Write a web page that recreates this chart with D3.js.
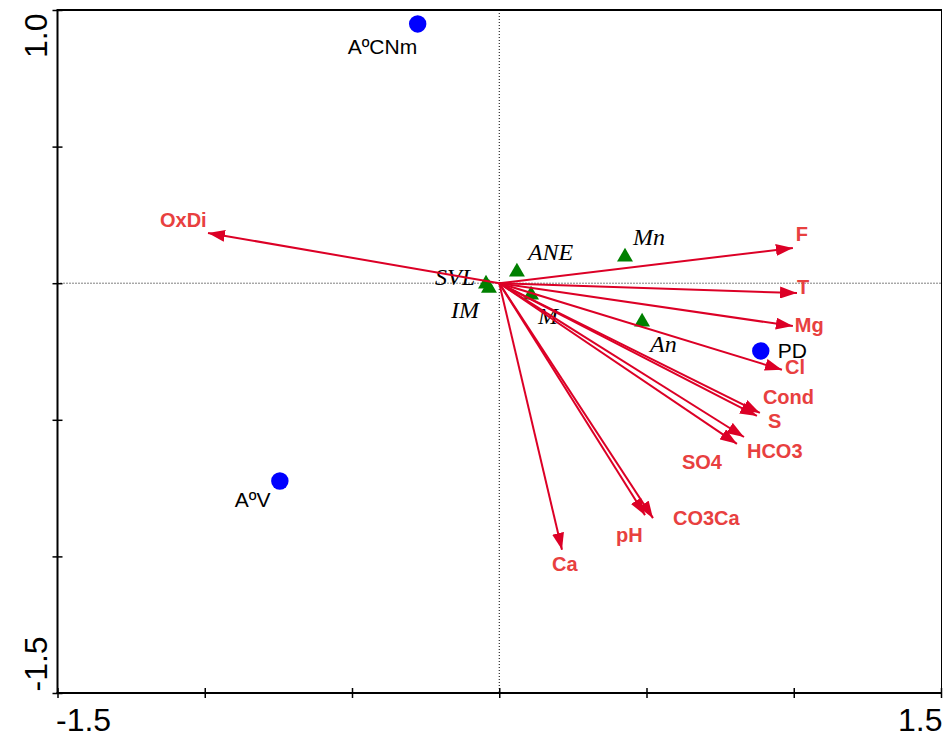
<!DOCTYPE html>
<html>
<head>
<meta charset="utf-8">
<script src="https://cdn.jsdelivr.net/npm/d3@7"></script>
<style>
  html, body { margin: 0; padding: 0; background: #fff; }
  svg { display: block; }
</style>
</head>
<body>
<svg id="chart" width="943" height="736"></svg>
<script>
// ---------------- DATA ----------------
const envVars = ["OxDi", "F", "T", "Mg", "Cl", "Cond", "S", "HCO3", "SO4", "CO3Ca", "pH", "Ca"];
const envX    = [-0.989, 0.997, 1.011, 0.997, 0.960, 0.885, 0.875, 0.831, 0.807, 0.522, 0.495, 0.213];
const envY    = [ 0.184, 0.129, -0.036, -0.157, -0.317, -0.475, -0.486, -0.563, -0.588, -0.860, -0.849, -0.976];

const species  = ["ANE", "SVL", "IM", "M", "Mn", "An"];
const speciesX = [0.060, -0.045, -0.035, 0.108, 0.427, 0.485];
const speciesY = [0.041, -0.003, -0.018, -0.043, 0.096, -0.142];

const sites  = ["AºCNm", "PD", "AºV"];
const siteX  = [-0.277, 0.888, -0.745];
const siteY  = [0.949, -0.248, -0.724];

const xTicks = [-1.5, -1.0, -0.5, 0, 0.5, 1.0, 1.5];
const yTicks = [-1.5, -1.0, -0.5, 0, 0.5, 1.0];
const xTickLabels = ["-1.5", "", "", "", "", "", "1.5"];
const yTickLabels = ["-1.5", "", "", "", "", "1.0"];

// ---------------- LAYOUT (label nudges in px) ----------------
const envLabelNudge = [[-48,-6],[3,-7],[0,1],[2,6],[3,4],[3,-9],[11,12],[3,21],[-55,25],[20,7],[-29,27],[-10,21]];
const speciesLabelNudge = [[11,-12],[-51,1],[-38,30],[7,29],[8,-12],[8,30]];
const siteLabelNudge = [[-70,30],[17,7],[-45,26]];

// ---------------- CHART ----------------
const svg = d3.select("#chart");
const pLeft = 57.5, pRight = 941, pTop = 10, pBottom = 693;
const x = d3.scaleLinear().domain([-1.5, 1.5]).range([pLeft, pRight]);
const y = d3.scaleLinear().domain([-1.5, 1.0]).range([pBottom, pTop]);

const arrowColor = "#dc0026";
const envLabelColor = "#e8403f";

// frame lines: top and right
svg.append("line").attr("x1", pLeft).attr("x2", pRight + 1).attr("y1", pTop).attr("y2", pTop)
  .attr("stroke", "#000").attr("stroke-width", 2);
svg.append("line").attr("x1", pRight + 0.5).attr("x2", pRight + 0.5).attr("y1", pTop).attr("y2", pBottom)
  .attr("stroke", "#000").attr("stroke-width", 1);

// dotted zero lines
svg.append("line").attr("x1", x(0)).attr("x2", x(0)).attr("y1", pTop).attr("y2", pBottom)
  .attr("stroke", "#000").attr("stroke-width", 1).attr("stroke-dasharray", "1,2");
svg.append("line").attr("x1", pLeft).attr("x2", pRight).attr("y1", y(0)).attr("y2", y(0))
  .attr("stroke", "#000").attr("stroke-width", 1).attr("stroke-dasharray", "1,2");

// axes
const xAxis = d3.axisBottom(x).tickValues(xTicks).tickSize(5)
  .tickFormat((d, i) => xTickLabels[i]);
const gx = svg.append("g").attr("transform", `translate(0,${pBottom})`).call(xAxis);
gx.select(".domain").attr("stroke-width", 2).attr("d", `M${pLeft - 1},0H${pRight + 1}`);
gx.selectAll(".tick line").attr("y1", -5).attr("y2", 5).attr("stroke-width", 1.5);
gx.selectAll(".tick text")
  .attr("font-family", "Liberation Sans, Arial, sans-serif")
  .attr("font-size", 32).attr("fill", "#000")
  .attr("y", 38).attr("dy", 0)
  .attr("text-anchor", (d, i) => i === 0 ? "start" : "end")
  .attr("x", (d, i) => i === 0 ? -2 : 1);

const yAxis = d3.axisLeft(y).tickValues(yTicks).tickSize(5)
  .tickFormat((d, i) => yTickLabels[i]);
const gy = svg.append("g").attr("transform", `translate(${pLeft},0)`).call(yAxis);
gy.select(".domain").attr("stroke-width", 2).attr("d", `M0,${pTop - 1}V${pBottom + 1}`);
gy.selectAll(".tick line").attr("x1", -5).attr("x2", 5).attr("stroke-width", 1.5);
gy.selectAll(".tick text")
  .attr("font-family", "Liberation Sans, Arial, sans-serif")
  .attr("font-size", 32).attr("fill", "#000")
  .attr("dy", 0)
  .attr("transform", "translate(-11,0) rotate(-90)")
  .attr("text-anchor", (d, i) => i === 0 ? "start" : "end")
  .attr("x", (d, i) => i === 0 ? 2 : -3)
  .attr("y", 0);

// species triangles
const tri = d3.symbol().type(d3.symbolTriangle).size(110);
svg.append("g").selectAll("path").data(species).join("path")
  .attr("d", tri)
  .attr("transform", (d, i) => `translate(${x(speciesX[i])},${y(speciesY[i])})`)
  .attr("fill", "#008000");

svg.append("g").selectAll("text").data(species).join("text")
  .attr("x", (d, i) => x(speciesX[i]) + speciesLabelNudge[i][0])
  .attr("y", (d, i) => y(speciesY[i]) + speciesLabelNudge[i][1])
  .attr("font-family", "Liberation Serif, 'Times New Roman', serif")
  .attr("font-style", "italic").attr("font-size", 24).attr("fill", "#000")
  .text(d => d);

// arrows
const defs = svg.append("defs");
defs.append("marker").attr("id", "head")
  .attr("viewBox", "0 0 17 12").attr("refX", 17).attr("refY", 6)
  .attr("markerWidth", 17).attr("markerHeight", 12)
  .attr("markerUnits", "userSpaceOnUse").attr("orient", "auto")
  .append("path").attr("d", "M0,0L17,6L0,12Z").attr("fill", arrowColor);

svg.append("g").selectAll("line").data(envVars).join("line")
  .attr("x1", x(0)).attr("y1", y(0))
  .attr("x2", (d, i) => x(envX[i])).attr("y2", (d, i) => y(envY[i]))
  .attr("stroke", arrowColor).attr("stroke-width", 2)
  .attr("marker-end", "url(#head)");

svg.append("g").selectAll("text").data(envVars).join("text")
  .attr("x", (d, i) => x(envX[i]) + envLabelNudge[i][0])
  .attr("y", (d, i) => y(envY[i]) + envLabelNudge[i][1])
  .attr("font-family", "Liberation Sans, Arial, sans-serif")
  .attr("font-weight", "bold").attr("font-size", 20).attr("fill", envLabelColor)
  .text(d => d);

// sites
svg.append("g").selectAll("circle").data(sites).join("circle")
  .attr("cx", (d, i) => x(siteX[i])).attr("cy", (d, i) => y(siteY[i]))
  .attr("r", 8.7).attr("fill", "#0000ff");

svg.append("g").selectAll("text").data(sites).join("text")
  .attr("x", (d, i) => x(siteX[i]) + siteLabelNudge[i][0])
  .attr("y", (d, i) => y(siteY[i]) + siteLabelNudge[i][1])
  .attr("font-family", "Liberation Sans, Arial, sans-serif")
  .attr("font-size", 21).attr("fill", "#000")
  .text(d => d);
</script>
</body>
</html>
